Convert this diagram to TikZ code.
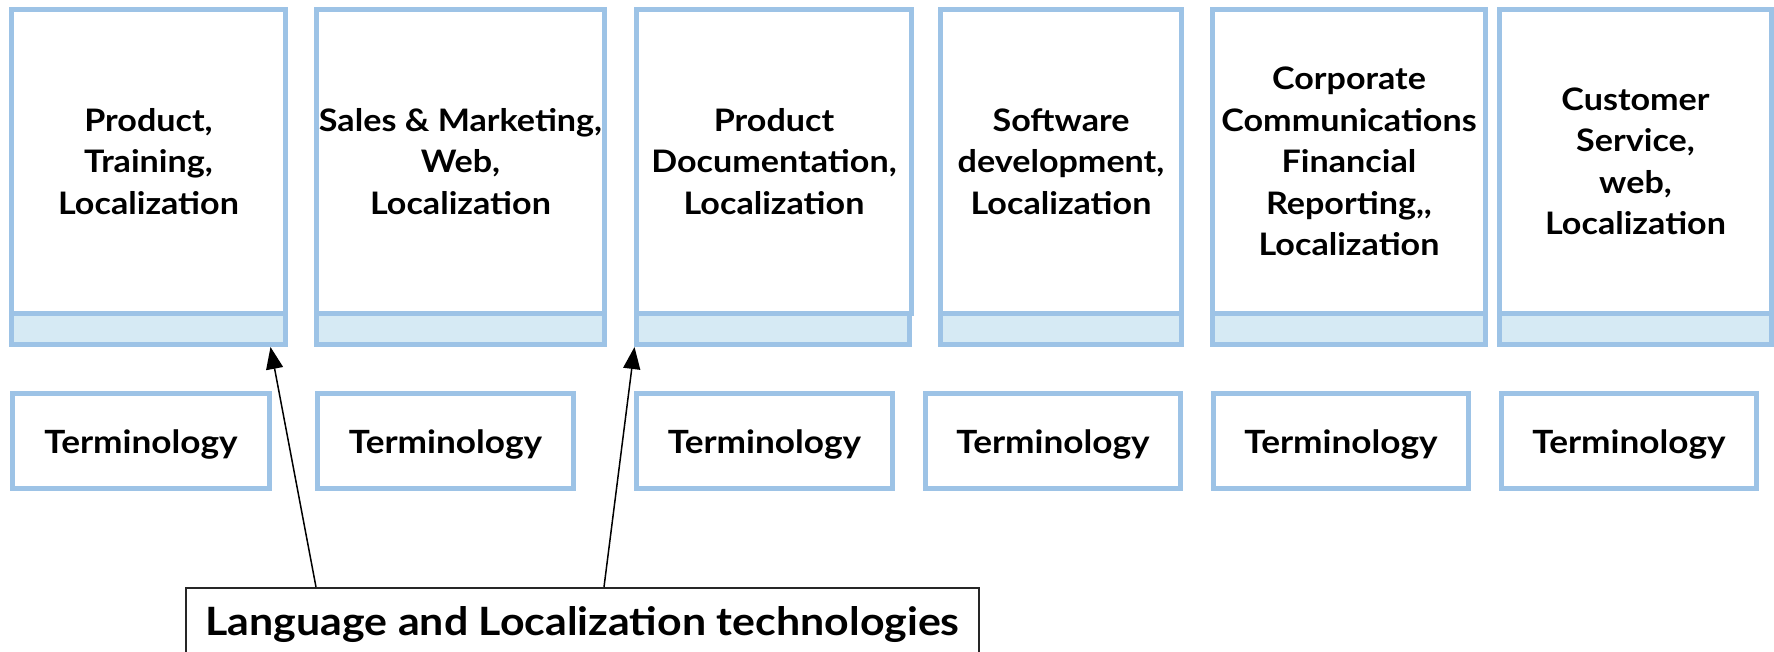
\documentclass[tikz,border=0pt]{standalone}
\usepackage{fontspec}
\setmainfont{Lato}[FakeStretch=1.1]
\usetikzlibrary{arrows.meta,calc}
\definecolor{bordblue}{HTML}{9DC3E6}
\definecolor{bandblue}{HTML}{D6EAF4}
\begin{document}
\begin{tikzpicture}[x=1pt,y=-1pt,
  upper/.style={draw=bordblue, line width=5pt, fill=white, inner sep=0pt, align=center,
    minimum height=304pt, font=\fontsize{31}{41.5}\selectfont\bfseries},
  band/.style={draw=bordblue, line width=5pt, fill=bandblue, inner sep=0pt, minimum height=31pt},
  termbox/.style={draw=bordblue, line width=5pt, fill=white, inner sep=0pt,
    minimum height=95pt, font=\fontsize{32}{40}\selectfont\bfseries, text height=24pt, text depth=0pt},
  techbox/.style={draw=black!85, line width=2pt, fill=white, inner sep=0pt,
    minimum width=793pt, minimum height=66pt, font=\fontsize{39}{47}\selectfont\bfseries,
    text height=29pt, text depth=0pt},
  conn/.style={line width=1.5pt, -{Triangle[length=22pt, width=17pt]}}
]
\useasboundingbox (0,0) rectangle (1774,652);
\clip (0,0) rectangle (1774,652);
\fill[white] (0,0) rectangle (1774,652);
% top boxes
\node[upper, minimum width=274pt] (d1) at (148.5,161.5) {Product,\\Training,\\Localization};
\node[band, minimum width=274pt] (b1) at (148.5,329) {};
\node[upper, minimum width=288pt] (d2) at (460.5,161.5) {Sales \& Marketing,\\Web,\\Localization};
\node[band, minimum width=288pt] (b2) at (460.5,329) {};
\node[upper, minimum width=275pt] (d3) at (774,161.5) {Product\\Documentation,\\Localization};
\node[band, minimum width=273pt] (b3) at (773,329) {};
\node[upper, minimum width=241pt] (d4) at (1061,161.5) {Software\\development,\\Localization};
\node[band, minimum width=241pt] (b4) at (1061,329) {};
\node[upper, minimum width=273pt] (d5) at (1349,161.5) {Corporate\\Communications\\Financial\\Reporting,{},\\Localization};
\node[band, minimum width=273pt] (b5) at (1349,329) {};
\node[upper, minimum width=272pt] (d6) at (1635.5,161.5) {Customer\\Service,\\web,\\Localization};
\node[band, minimum width=272pt] (b6) at (1635.5,329) {};
% terminology boxes
\node[termbox, minimum width=257pt] (t1) at (141,441) {Terminology};
\node[termbox, minimum width=256pt] (t2) at (445.5,441) {Terminology};
\node[termbox, minimum width=256pt] (t3) at (764.5,441) {Terminology};
\node[termbox, minimum width=255pt] (t4) at (1053,441) {Terminology};
\node[termbox, minimum width=255pt] (t5) at (1341,441) {Terminology};
\node[termbox, minimum width=255pt] (t6) at (1629,441) {Terminology};
% technology box
\node[techbox] (tech) at (582.5,621) {Language and Localization technologies};
% connectors
\draw[conn] ($(tech.north west)+(131,0)$) -- ($(b1.south east)+(-17.5,0)$);
\draw[conn] ($(tech.north west)+(419,0)$) -- ($(b3.south west)+(0.5,0)$);
\end{tikzpicture}
\end{document}
